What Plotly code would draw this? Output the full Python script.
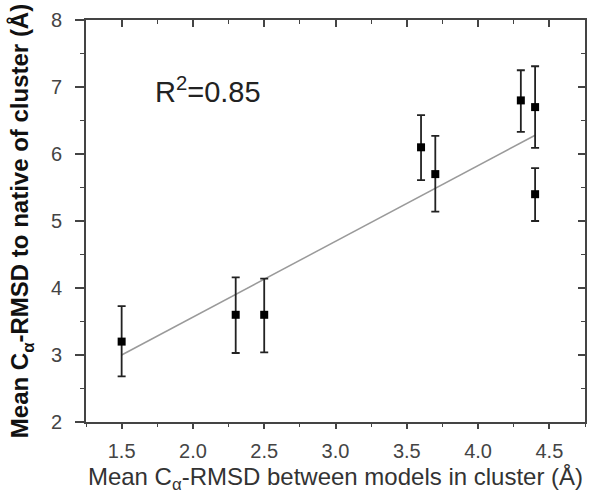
import plotly.graph_objects as go

# Data
x_vals = [1.5, 2.3, 2.5, 3.6, 3.7, 4.3, 4.4, 4.4]
y_vals = [3.2, 3.6, 3.6, 6.1, 5.7, 6.8, 6.7, 5.4]
err_plus = [0.53, 0.56, 0.54, 0.48, 0.57, 0.45, 0.61, 0.39]
err_minus = [0.52, 0.57, 0.56, 0.49, 0.56, 0.47, 0.61, 0.40]
fit_x = [1.5, 4.4]
fit_y = [3.0, 6.28]
r2_text = "R<sup>2</sup>=0.85"

x_range = [1.25, 4.75]
y_range = [2, 8]
x_ticks = [1.5, 2.0, 2.5, 3.0, 3.5, 4.0, 4.5]
x_ticklabels = ["1.5", "2.0", "2.5", "3.0", "3.5", "4.0", "4.5"]
y_ticks = [2, 3, 4, 5, 6, 7, 8]
y_ticklabels = ["2", "3", "4", "5", "6", "7", "8"]

font_family = "Liberation Sans"
axis_col = "#444444"

fig = go.Figure()

fig.add_trace(go.Scatter(
    x=fit_x, y=fit_y, mode="lines",
    line=dict(color="#9a9a9a", width=1.5),
    hoverinfo="skip", showlegend=False,
))

fig.add_trace(go.Scatter(
    x=x_vals, y=y_vals, mode="markers",
    marker=dict(symbol="square", size=8, color="black"),
    error_y=dict(type="data", symmetric=False, array=err_plus, arrayminus=err_minus,
                 color="#222222", thickness=1.8, width=4),
    showlegend=False,
))

# dummy trace for top/right axes
fig.add_trace(go.Scatter(x=[None], y=[None], xaxis="x2", yaxis="y2",
                         mode="markers", showlegend=False, hoverinfo="skip"))

fig.add_annotation(
    x=1.72, y=6.96, xref="x", yref="y", text=r2_text, showarrow=False,
    xanchor="left", yanchor="middle",
    font=dict(family=font_family, size=29, color="#222222"),
)

fig.update_layout(
    width=592, height=497,
    margin=dict(l=86, r=7, t=20, b=75),
    paper_bgcolor="white", plot_bgcolor="white",
    font=dict(family=font_family, size=17, color="#444444"),
    xaxis=dict(
        range=x_range, tickmode="array", tickvals=x_ticks, ticktext=x_ticklabels,
        ticks="outside", ticklen=5, tickwidth=1.5, tickcolor=axis_col,
        minor=dict(ticks="outside", ticklen=3, tickwidth=1.2, tickcolor=axis_col, dtick=0.25, tick0=1.25),
        showline=True, linecolor=axis_col, linewidth=2,
        showgrid=False, zeroline=False, ticklabelstandoff=5,
        tickfont=dict(family=font_family, size=20, color="#444444"),
        title=dict(text="Mean C<sub>α</sub>-RMSD between models in cluster (Å)",
                   font=dict(family=font_family, size=24, color="#333333"), standoff=7),
    ),
    yaxis=dict(
        range=y_range, tickmode="array", tickvals=y_ticks, ticktext=y_ticklabels,
        ticks="outside", ticklen=9, tickwidth=1.5, tickcolor=axis_col,
        minor=dict(ticks="outside", ticklen=4, tickwidth=1.2, tickcolor=axis_col, dtick=0.5, tick0=2),
        showline=True, linecolor=axis_col, linewidth=2,
        showgrid=False, zeroline=False, ticklabelstandoff=9,
        tickfont=dict(family=font_family, size=20, color="#444444"),
        title=dict(text="<b>Mean C<sub>α</sub>-RMSD to native of cluster (Å)</b>",
                   font=dict(family=font_family, size=24, color="#111111"), standoff=15),
    ),
    xaxis2=dict(
        overlaying="x", side="top", anchor="y", range=x_range, tickmode="array", tickvals=x_ticks,
        showticklabels=False, ticks="inside", ticklen=7, tickwidth=1.5, tickcolor=axis_col,
        minor=dict(ticks="inside", ticklen=4, tickwidth=1.2, tickcolor=axis_col, dtick=0.25, tick0=1.25),
        showline=True, linecolor=axis_col, linewidth=2, showgrid=False, zeroline=False,
    ),
    yaxis2=dict(
        overlaying="y", side="right", anchor="x", range=y_range, tickmode="array", tickvals=y_ticks,
        showticklabels=False, ticks="inside", ticklen=7, tickwidth=1.5, tickcolor=axis_col,
        minor=dict(ticks="inside", ticklen=4, tickwidth=1.2, tickcolor=axis_col, dtick=0.5, tick0=2),
        showline=True, linecolor=axis_col, linewidth=2, showgrid=False, zeroline=False,
    ),
)

fig.write_html("out.html")
